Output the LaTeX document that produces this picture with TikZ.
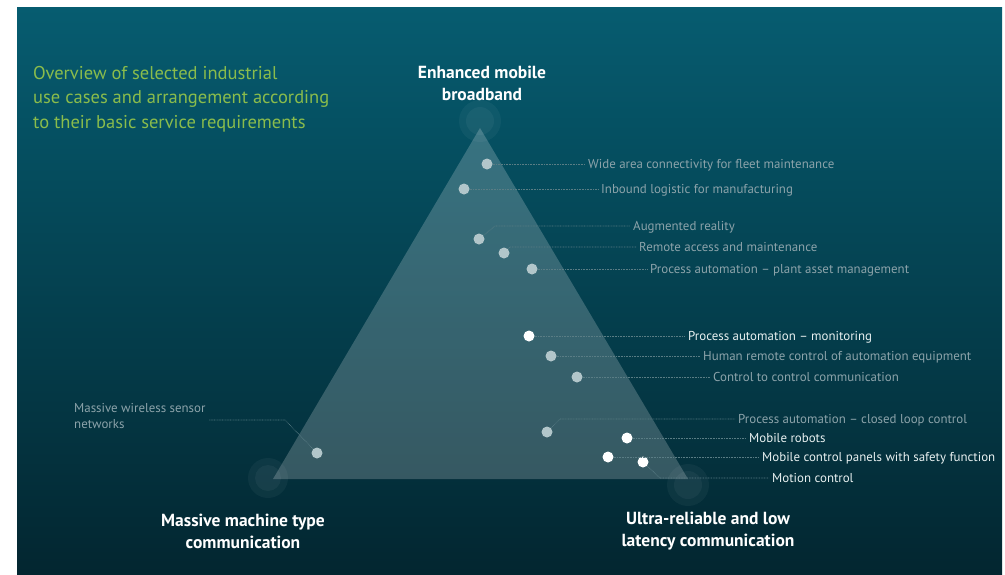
\documentclass[tikz,border=0pt]{standalone}
\usepackage{fontspec}
\setmainfont{PT Sans}
\definecolor{bgtop}{RGB}{6,92,112}
\definecolor{bgbot}{RGB}{3,38,48}
\definecolor{labgray}{RGB}{140,163,170}
\definecolor{labwhite}{RGB}{232,240,240}
\definecolor{dotgray}{RGB}{178,198,202}
\definecolor{titlegreen}{RGB}{138,188,76}
\definecolor{conncol}{RGB}{90,125,133}
\tikzset{
  dotg/.style={circle, fill=dotgray, minimum size=11pt, inner sep=0pt},
  dotw/.style={circle, fill=white, minimum size=11pt, inner sep=0pt},
  labg/.style={anchor=west, inner sep=3pt, text=labgray, font=\fontsize{12.9}{14}\selectfont, text height=10pt, text depth=1pt},
  labw/.style={labg, text=labwhite},
  conn/.style={conncol, line width=0.6pt, dash pattern=on 0.8pt off 0.8pt},
  head/.style={align=center, text=white, font=\fontsize{17.5}{22}\selectfont\bfseries},
  glow/.style={white, opacity=0.045}
}
\begin{document}
\begin{tikzpicture}[x=1pt, y=-1pt]
\useasboundingbox (0,0) rectangle (1005,574);
\fill[white] (0,0) rectangle (1005,574);
\shade[top color=bgtop, bottom color=bgbot] (17,7) rectangle (1002,574);
% glows
\fill[glow] (480,121) circle (21);
\fill[glow] (480,121) circle (14);
\fill[glow] (268,478) circle (20);
\fill[glow] (268,478) circle (13);
\fill[glow] (688,485) circle (21);
\fill[glow] (688,485) circle (14);
% triangle
\fill[white, fill opacity=0.2] (480,128) -- (273,479) -- (688,479) -- cycle;
% title
\node[anchor=north west, inner sep=0pt, align=left, text=titlegreen, font=\fontsize{18.5}{24.5}\selectfont] (title) at (33,66)
  {Overview of selected industrial\\use cases and arrangement according\\to their basic service requirements};
% headings
\node[head] (embb) at (482,83) {Enhanced mobile\\broadband};
\node[head] (mmtc) at (243,531) {Massive machine type\\communication};
\node[head] (urllc) at (708,531) {Ultra-reliable and low\\latency communication};
% dots
\node[dotg] (d1) at (487,164) {};
\node[dotg] (d2) at (464,189) {};
\node[dotg] (d3) at (479,239) {};
\node[dotg] (d4) at (504,253) {};
\node[dotg] (d5) at (532,269) {};
\node[dotw] (d6) at (529,336) {};
\node[dotg] (d7) at (551,356) {};
\node[dotg] (d8) at (577,377) {};
\node[dotg] (d9) at (547,432) {};
\node[dotw] (d10) at (627,438) {};
\node[dotw] (d11) at (608,457) {};
\node[dotw] (d12) at (643,462) {};
\node[dotg] (d13) at (317,453) {};
% labels
\node[labg] (l1) at (585,164) {Wide area connectivity for fleet maintenance};
\node[labg] (l2) at (598,189) {Inbound logistic for manufacturing};
\node[labg] (l3) at (630,226) {Augmented reality};
\node[labg] (l4) at (636,247) {Remote access and maintenance};
\node[labg] (l5) at (647,269) {Process automation -- plant asset management};
\node[labw] (l6) at (685,336) {Process automation -- monitoring};
\node[labg] (l7) at (700,356) {Human remote control of automation equipment};
\node[labg] (l8) at (710,377) {Control to control communication};
\node[labg] (l9) at (735,419) {Process automation -- closed loop control};
\node[labw] (l10) at (746,438) {Mobile robots};
\node[labw] (l11) at (759,457) {Mobile control panels with safety function};
\node[labw] (l12) at (769,478) {Motion control};
\node[anchor=west, inner sep=3pt, align=left, text=labgray, font=\fontsize{12.9}{16}\selectfont] (l13) at (71,416) {Massive wireless sensor\\networks};
% bend coordinates
\coordinate (b3) at (495,226);
\coordinate (b4) at (510,247);
\coordinate (b9) at (560,419);
\coordinate (b12) at (660,478);
\coordinate (b13) at (285,420);
% connectors
\draw[conn] (d1) -- (l1);
\draw[conn] (d2) -- (l2);
\draw[conn] (d3) -- (b3) -- (l3.west);
\draw[conn] (d4) -- (b4) -- (l4.west);
\draw[conn] (d5) -- (l5);
\draw[conn] (d6) -- (l6);
\draw[conn] (d7) -- (l7);
\draw[conn] (d8) -- (l8);
\draw[conn] (d9) -- (b9) -- (l9.west);
\draw[conn] (d10) -- (l10);
\draw[conn] (d11) -- (l11);
\draw[conn] (d12) -- (b12) -- (l12.west);
\draw[conn] (d13) -- (b13) -- (b13 -| l13.east);
\end{tikzpicture}
\end{document}
